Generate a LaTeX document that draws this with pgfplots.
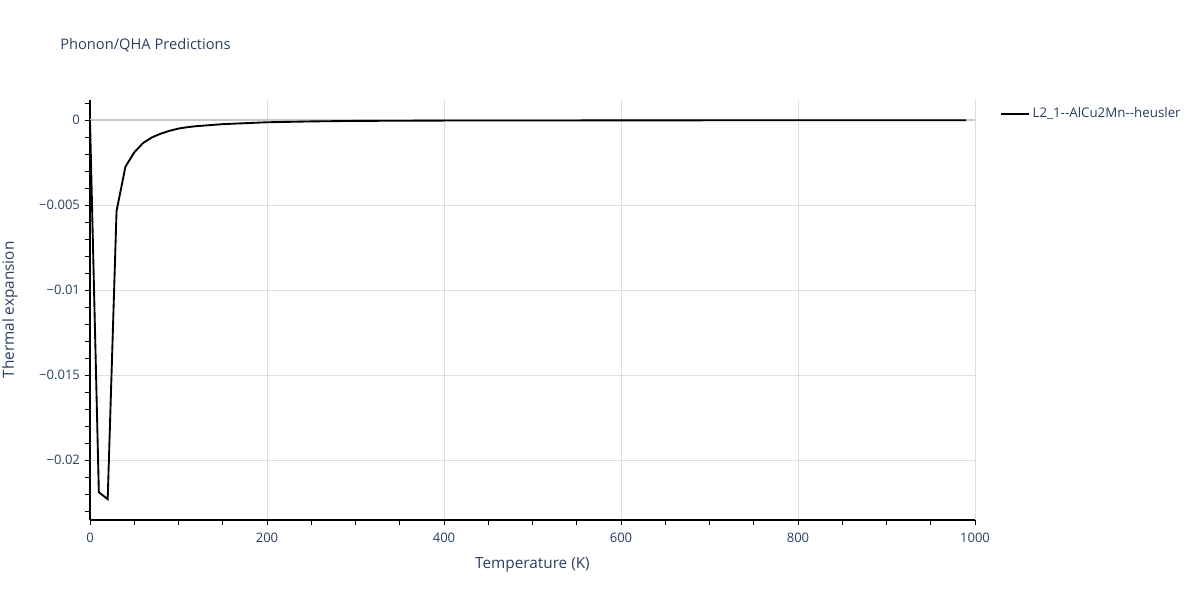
\documentclass[border=0pt]{standalone}
\usepackage{pgfplots}
\pgfplotsset{compat=1.18}
\usepackage{fontspec}
\setmainfont{Open Sans}
\definecolor{txt}{HTML}{2A3F5F}
\definecolor{gridc}{HTML}{DDDDDD}
\definecolor{zeroc}{HTML}{C8C8C8}
\begin{document}
\begin{tikzpicture}[x=1pt,y=1pt]
\path[use as bounding box] (0,0) rectangle (900,450);
\node[anchor=west,inner sep=0pt,text=txt,font=\fontsize{11}{13}\selectfont] at (45,416.25) {Phonon/QHA Predictions};
\begin{axis}[
  at={(67.5pt,60pt)}, anchor=south west,
  scale only axis, width=663.75pt, height=315pt,
  xmin=0, xmax=1000, ymin=-0.02353, ymax=0.00118,
  axis x line*=bottom, axis y line*=left,
  axis line style={-, black, line width=0.8pt},
  xtick={0,200,400,600,800,1000},
  xticklabels={0,200,400,600,800,1000},
  minor xtick={50,100,150,250,300,350,450,500,550,650,700,750,850,900,950},
  ytick={-0.02,-0.015,-0.01,-0.005,0},
  yticklabels={−0.02,−0.015,−0.01,−0.005,0},
  minor ytick={-0.023,-0.022,-0.021,-0.019,-0.018,-0.017,-0.016,-0.014,-0.013,-0.012,-0.011,-0.009,-0.008,-0.007,-0.006,-0.004,-0.003,-0.002,-0.001,0.001},
  scaled y ticks=false,
  tick align=outside, major tick length=4pt, minor tick length=4pt,
  tick style={black, line width=0.6pt},
  every tick label/.append style={font=\fontsize{9.8}{11}\selectfont, text=txt},
  xticklabel style={yshift=-2pt},
  /pgf/number format/assume math mode=true,
  xmajorgrids, ymajorgrids,
  major grid style={gridc, line width=0.6pt},
  xlabel={Temperature (K)}, ylabel={Thermal expansion},
  label style={font=\fontsize{11.5}{13}\selectfont, text=txt},
  xlabel style={at={(axis description cs:0.5,0)}, anchor=center, yshift=-33.5pt},
  ylabel style={at={(axis description cs:-0.0904,0.5)}, anchor=center},
  legend style={at={(1.028,0.967)}, anchor=west, draw=none, fill=none, inner sep=0pt, font=\fontsize{10}{12}\selectfont, text=txt},
  legend cell align=left,
  legend image code/.code={\draw[#1] (0pt,0pt) -- (21pt,0pt);},
  clip=false,
]
\draw[zeroc, line width=1.2pt] (axis cs:0,0) -- (axis cs:1000,0);
\addplot[black, line width=1.4pt] coordinates {
(0,0) (10,-0.0219) (20,-0.0223) (30,-0.00535) (40,-0.00275) (50,-0.0019)
(60,-0.00135) (70,-0.00102) (80,-0.0008) (90,-0.00063) (100,-0.0005)
(110,-0.00042) (120,-0.00036) (150,-0.00024) (200,-0.00013) (250,-0.00008)
(300,-0.00005) (400,-0.00003) (600,-0.00002) (800,-0.00001) (990,-0.00001)
};
\addlegendentry{L2\_1-{}-AlCu2Mn-{}-heusler}
\end{axis}
\end{tikzpicture}
\end{document}
